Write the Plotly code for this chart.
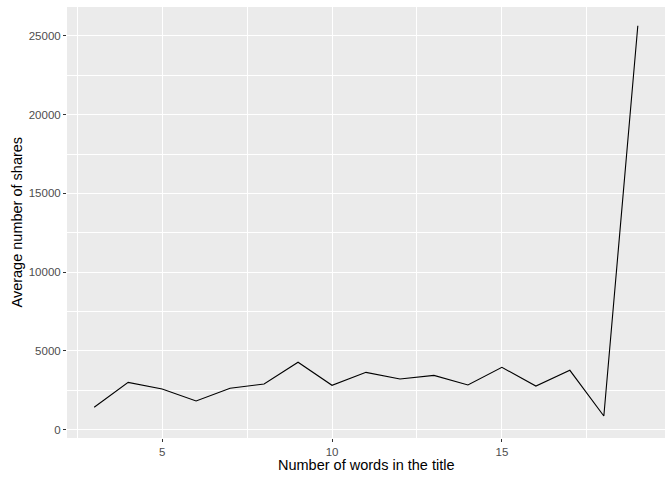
import plotly.graph_objects as go

words = [3, 4, 5, 6, 7, 8, 9, 10, 11, 12, 13, 14, 15, 16, 17, 18, 19]
avg_shares = [1410, 2990, 2570, 1810, 2620, 2890, 4270, 2810, 3630, 3210,
              3440, 2830, 3950, 2760, 3760, 860, 25650]

x_ticks = [5, 10, 15]
y_ticks = [0, 5000, 10000, 15000, 20000, 25000]
y_tick_text = ["0", "5000", "10000", "15000", "20000", "25000"]

fig = go.Figure()
fig.add_trace(go.Scatter(x=words, y=avg_shares, mode="lines",
                         line=dict(color="black", width=1.1),
                         showlegend=False, hoverinfo="x+y"))

font = "Liberation Sans, Arial, sans-serif"
axis_common = dict(
    showgrid=True, gridcolor="white", gridwidth=1.1,
    zeroline=False, showline=False, automargin=False,
    ticks="outside", ticklen=3, tickcolor="#333333", tickwidth=1,
    tickfont=dict(family=font, size=11.5, color="#4d4d4d"),
)
fig.update_layout(
    width=672, height=480,
    margin=dict(l=67, r=7, t=7, b=42),
    paper_bgcolor="white", plot_bgcolor="#ebebeb",
    font=dict(family=font),
    xaxis=dict(**axis_common, range=[2.2, 19.8], tickvals=x_ticks,
               minor=dict(tick0=2.5, dtick=5, showgrid=True,
                          gridcolor="white", gridwidth=0.6, ticks="")),
    yaxis=dict(**axis_common, range=[-540, 26840],
               tickvals=y_ticks, ticktext=y_tick_text,
               minor=dict(tick0=2500, dtick=5000, showgrid=True,
                          gridcolor="white", gridwidth=0.6, ticks="")),
    annotations=[
        dict(text="Number of words in the title", xref="paper", yref="paper",
             x=0.5, y=0, yanchor="top", xanchor="center",
             yshift=-17, showarrow=False,
             font=dict(family=font, size=14.5, color="black")),
        dict(text="Average number of shares", xref="paper", yref="paper",
             x=0, xshift=-51, y=0.5, textangle=-90, xanchor="center",
             yanchor="middle", showarrow=False,
             font=dict(family=font, size=14.5, color="black")),
    ],
)
fig.write_html("out.html", config={"displayModeBar": False},
               post_script="document.body.style.margin='0';document.body.style.padding='0';")
